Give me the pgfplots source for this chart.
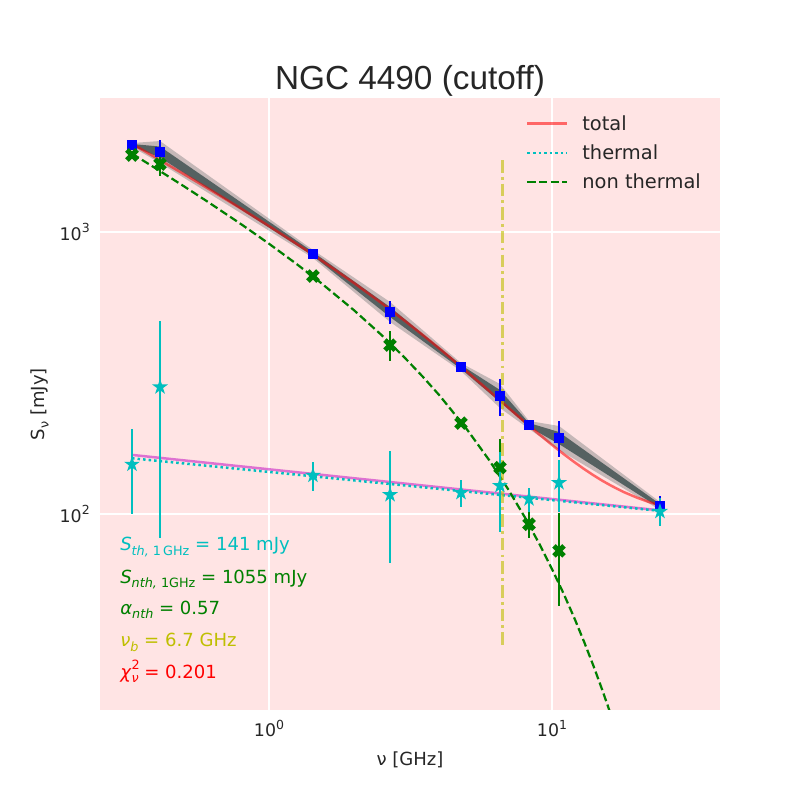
\documentclass[border=0pt]{standalone}
\usepackage{fontspec}
\setmainfont{DejaVu Sans}[ItalicFont={DejaVu Sans Oblique}]
\newfontfamily\titlefont{Liberation Sans}
\usepackage{pgfplots}
\usepackage{pgfplotstable}
\pgfplotsset{compat=1.18}

\definecolor{bgpink}{RGB}{255,228,228}
\definecolor{mplc}{RGB}{0,191,191}
\definecolor{mplg}{RGB}{0,128,0}
\definecolor{mply}{RGB}{191,191,0}
\definecolor{mplm}{RGB}{191,0,191}
\definecolor{bandc}{RGB}{66,82,82}
\definecolor{txt}{RGB}{38,38,38}

\pgfdeclareplotmark{fatx}{%
 \pgfpathmoveto{\pgfpoint{0pt}{0.52\pgfplotmarksize}}%
 \pgfpathlineto{\pgfpoint{0.48\pgfplotmarksize}{\pgfplotmarksize}}%
 \pgfpathlineto{\pgfpoint{\pgfplotmarksize}{0.48\pgfplotmarksize}}%
 \pgfpathlineto{\pgfpoint{0.52\pgfplotmarksize}{0pt}}%
 \pgfpathlineto{\pgfpoint{\pgfplotmarksize}{-0.48\pgfplotmarksize}}%
 \pgfpathlineto{\pgfpoint{0.48\pgfplotmarksize}{-\pgfplotmarksize}}%
 \pgfpathlineto{\pgfpoint{0pt}{-0.52\pgfplotmarksize}}%
 \pgfpathlineto{\pgfpoint{-0.48\pgfplotmarksize}{-\pgfplotmarksize}}%
 \pgfpathlineto{\pgfpoint{-\pgfplotmarksize}{-0.48\pgfplotmarksize}}%
 \pgfpathlineto{\pgfpoint{-0.52\pgfplotmarksize}{0pt}}%
 \pgfpathlineto{\pgfpoint{-\pgfplotmarksize}{0.48\pgfplotmarksize}}%
 \pgfpathlineto{\pgfpoint{-0.48\pgfplotmarksize}{\pgfplotmarksize}}%
 \pgfpathclose
 \pgfusepathqfill}

\pgfdeclareplotmark{fstar}{%
 \pgfpathmoveto{\pgfpoint{0pt}{\pgfplotmarksize}}%
 \pgfpathlineto{\pgfpoint{-0.2245\pgfplotmarksize}{0.3090\pgfplotmarksize}}%
 \pgfpathlineto{\pgfpoint{-0.9511\pgfplotmarksize}{0.3090\pgfplotmarksize}}%
 \pgfpathlineto{\pgfpoint{-0.3633\pgfplotmarksize}{-0.1180\pgfplotmarksize}}%
 \pgfpathlineto{\pgfpoint{-0.5878\pgfplotmarksize}{-0.8090\pgfplotmarksize}}%
 \pgfpathlineto{\pgfpoint{0pt}{-0.382\pgfplotmarksize}}%
 \pgfpathlineto{\pgfpoint{0.5878\pgfplotmarksize}{-0.8090\pgfplotmarksize}}%
 \pgfpathlineto{\pgfpoint{0.3633\pgfplotmarksize}{-0.1180\pgfplotmarksize}}%
 \pgfpathlineto{\pgfpoint{0.9511\pgfplotmarksize}{0.3090\pgfplotmarksize}}%
 \pgfpathlineto{\pgfpoint{0.2245\pgfplotmarksize}{0.3090\pgfplotmarksize}}%
 \pgfpathclose
 \pgfusepathqfill}

\pgfplotstableread{
nu S e
0.328 2037 0
0.412 1923 190
1.430 836 0
2.677 520 47
4.769 332 0
6.549 262 40
8.294 207 0
10.585 186 27
24.07 107 9
}\totaltab

\pgfplotstableread{
nu S e
0.328 1875 0
0.412 1741 160
1.430 698 0
2.677 397 48
4.769 210 0
6.549 146 38
8.294 92 9.5
10.585 74 27
}\nttab

\pgfplotstableread{
nu S e
0.328 150 50
0.412 282 200
1.430 137 16
2.677 117 50
4.769 119 13
6.549 126 40
8.294 113 11
10.585 129 27
24.07 102 11.5
}\thtab

\newcommand{\sub}[1]{\raisebox{-0.25em}{\fontsize{9.2}{10}\selectfont #1}}
\newcommand{\tl}[1]{10\raisebox{0.42em}{\fontsize{9}{10}\selectfont #1}}

\begin{document}
\begin{tikzpicture}
\useasboundingbox (-72pt,-64.8pt) rectangle (504pt,511.2pt);
\begin{axis}[
  at={(0pt,0pt)}, anchor=south west,
  scale only axis, width=446.4pt, height=440.64pt,
  xmode=log, ymode=log,
  xmin=0.2528, xmax=39.24, ymin=20.18, ymax=2987,
  axis background/.style={fill=bgpink},
  axis line style={draw=none},
  tick style={draw=none},
  xtick={1,10}, xticklabels={\tl{0},\tl{1}},
  ytick={100,1000}, yticklabels={\tl{2},\tl{3}},
  minor xtick={}, minor ytick={},
  xmajorgrids, ymajorgrids,
  major grid style={white, line width=0.8pt},
  ticklabel style={font=\fontsize{12.5}{14}\selectfont, text=txt},
  xticklabel style={anchor=base, inner sep=0pt, yshift=-19.4pt},
  yticklabel style={anchor=base east, inner sep=0pt, xshift=-7.2pt, yshift=-5.8pt},
  legend cell align=left,
  legend image code/.code={\draw[#1] (0pt,0pt) -- (28.8pt,0pt);},
  legend style={draw=none, fill=none, at={(0.687,0.9722)}, anchor=north west,
    inner sep=0pt, nodes={inner sep=0pt}, font=\fontsize{14}{16}\selectfont, text=txt,
    row sep=8.9pt, column sep=9.8pt},
]
% MCMC band (outer and inner)
\addplot[forget plot, draw=none, fill=bandc, fill opacity=0.3] coordinates {
(0.328,2068) (0.412,2102) (1.430,863.7) (2.677,564.8) (4.769,343.0) (6.549,289.1) (8.294,213.7) (10.585,205.2) (24.07,110.3)
(24.07,103.3) (10.585,168.6) (8.294,200.2) (6.549,237.6) (4.769,321.5) (2.677,479.7) (1.430,808.7) (0.412,1757) (0.328,2002)
} -- cycle;
\addplot[forget plot, draw=none, fill=bandc, fill opacity=0.85] coordinates {
(0.328,2051.6) (0.412,2009.6) (1.430,849.7) (2.677,542.0) (4.769,337.6) (6.549,275.3) (8.294,210.2) (10.585,195.3) (24.07,108.5)
(24.07,105.0) (10.585,177.1) (8.294,203.4) (6.549,249.6) (4.769,326.8) (2.677,499.6) (1.430,822.3) (0.412,1837) (0.328,2018)
} -- cycle;
% total model
\addplot[red, draw opacity=0.55, line width=1.8pt, mark=none] coordinates {
(0.328,2054) (0.4,1830) (0.5,1604.6) (0.6,1439) (0.8,1207.5) (1,1049.7) (1.25,908.8) (1.5,804.8)
(2,658.8) (2.5,559.5) (3,486.7) (3.5,430.7) (4,386.4) (5,319.9) (6,273.1) (7,238.5) (8,212.2)
(9,191.9) (10,175.8) (11,163.0) (12,152.7) (13,144.2) (14,137.3) (15,131.5) (16,126.8) (17,122.8)
(18,119.4) (20,114.2) (22,110.3) (24.07,107.3)
};
\addlegendentry{total}
% second thermal line (magenta)
\addplot[forget plot, mplm, draw opacity=0.5, line width=1.8pt, mark=none] coordinates {
(0.328,162) (24.07,103)
};
% thermal model
\addplot[mplc, line width=1.8pt, dash pattern=on 1.8pt off 2.2pt, mark=none] coordinates {
(0.328,157.6) (24.07,102.6)
};
\addlegendentry{thermal}
% non-thermal model
\addplot[mplg, line width=1.6pt, dash pattern=on 5.8pt off 2.6pt, mark=none] coordinates {
(0.328,1896.3) (0.4,1675.6) (0.5,1453.5) (0.6,1290.6) (0.8,1063.3) (1,908.7) (1.25,770.9) (1.5,669.4)
(2,527.2) (2.5,430.9) (3,360.4) (3.5,306.3) (4,263.6) (5,199.9) (6,155.2) (7,122.4) (8,97.7)
(9,78.7) (10,63.8) (11,52.1) (12,42.7) (13,35.1) (14,29.0) (15,24.0) (16,19.94) (17,16.6)
};
\addlegendentry{non thermal}
% break frequency
\addplot[forget plot, mply, draw opacity=0.6, line width=2.2pt, dash pattern=on 9pt off 3pt on 2pt off 3pt, mark=none] coordinates {
(6.7,1799) (6.7,33.5)
};
% error bars
\addplot[forget plot, only marks, mark=none, error bars/.cd, y dir=both, y explicit, error mark=none,
  error bar style={draw=blue, line width=1.4pt}] table[x=nu, y=S, y error=e]{\totaltab};
\addplot[forget plot, only marks, mark=none, error bars/.cd, y dir=both, y explicit, error mark=none,
  error bar style={draw=mplg, line width=1.4pt}] table[x=nu, y=S, y error=e]{\nttab};
\addplot[forget plot, only marks, mark=none, error bars/.cd, y dir=both, y explicit, error mark=none,
  error bar style={draw=mplc, line width=1.4pt}] table[x=nu, y=S, y error=e]{\thtab};
% markers
\addplot[forget plot, only marks, mark=square*, mark size=3.3pt, mark options={fill=blue, draw=blue, line width=0pt}] table[x=nu, y=S]{\totaltab};
\addplot[forget plot, only marks, mark=fatx, mark size=4.9pt, mark options={fill=mplg}] table[x=nu, y=S]{\nttab};
\addplot[forget plot, only marks, mark=fstar, mark size=6pt, mark options={fill=mplc}] table[x=nu, y=S]{\thtab};
\end{axis}
% title and axis labels
\node[anchor=base, font=\titlefont\fontsize{24}{28}\selectfont, text=txt] at (223.2pt,446.6pt) {NGC 4490 (cutoff)};
\node[anchor=base, font=\fontsize{13}{15}\selectfont, text=txt] at (223.2pt,-39.6pt) {ν [GHz]};
\node[anchor=base, rotate=90, font=\fontsize{13}{15}\selectfont, text=txt] at (-40.3pt,220.3pt) {S\sub{ν} [mJy]};
% fit annotations
\begin{scope}[every node/.style={anchor=base west, inner sep=0pt, font=\fontsize{13}{15}\selectfont}]
\node[text=mplc] at (14.4pt,114.5pt) {\textit{S}\sub{\textit{th,} 1\,GHz} = 141 mJy};
\node[text=mplg] at (14.4pt,91.4pt) {\textit{S}\sub{\textit{nth,} 1GHz} = 1055 mJy};
\node[text=mplg] at (14.4pt,69.1pt) {\textit{α}\sub{\textit{nth}} = 0.57};
\node[text=mply] at (14.4pt,45.4pt) {\textit{ν}\sub{\textit{b}} = 6.7 GHz};
\node[text=red] at (14.4pt,23.0pt) {\textit{χ}\rlap{\raisebox{0.45em}{\fontsize{9.2}{10}\selectfont 2}}\sub{\textit{ν}} = 0.201};
\end{scope}
\end{tikzpicture}
\end{document}
